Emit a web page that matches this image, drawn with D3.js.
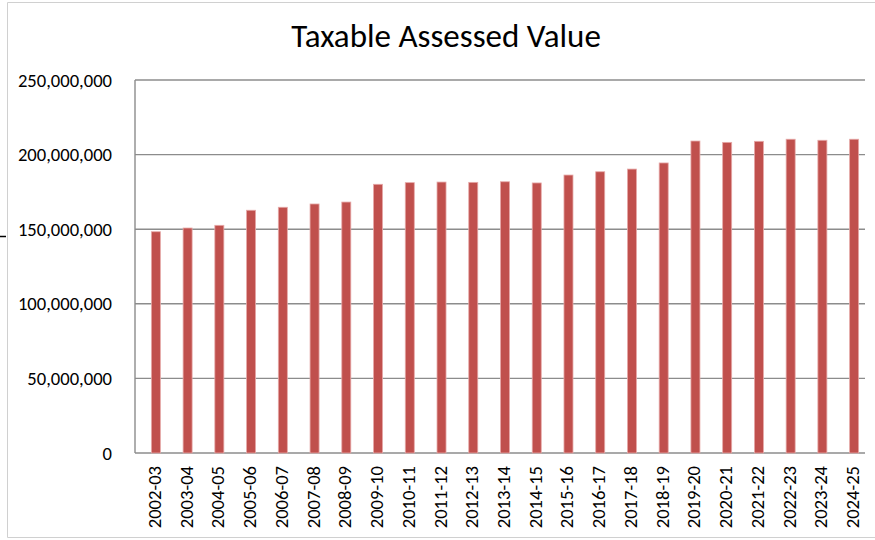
<!DOCTYPE html>
<html>
<head>
<meta charset="utf-8">
<script src="https://cdn.jsdelivr.net/npm/d3@7"></script>
<style>
  body { margin: 0; background: #fff; }
  svg text { font-family: Carlito, Lato, "Liberation Sans", sans-serif; fill: #000; }
</style>
</head>
<body>
<div id="chart"></div>
<script>
// chart data
const years = ["2002-03","2003-04","2004-05","2005-06","2006-07","2007-08","2008-09","2009-10",
  "2010-11","2011-12","2012-13","2013-14","2014-15","2015-16","2016-17","2017-18","2018-19",
  "2019-20","2020-21","2021-22","2022-23","2023-24","2024-25"];
const values = [148300000,150800000,152600000,162700000,164700000,166900000,168200000,180100000,
  181200000,181600000,181400000,181800000,181000000,186300000,188500000,190300000,194400000,
  209100000,208200000,208900000,210300000,209600000,210300000];
const yTicks = [0,50000000,100000000,150000000,200000000,250000000];

// configure chart
const width = 875, height = 540;
const plot = {left: 135, right: 865, top: 80, bottom: 453};

var svg = d3.select('#chart').append('svg')
  .attr('width', width)
  .attr('height', height);

// outer chart border (right side runs off the picture)
svg.append('path')
  .attr('d', 'M875,2.5 H7.5 V537.5 H875')
  .attr('fill', 'none')
  .attr('stroke', '#d0d0d0')
  .attr('stroke-width', 1);
// stray mark on the left edge
svg.append('line')
  .attr('x1', 0).attr('x2', 6).attr('y1', 236.5).attr('y2', 236.5)
  .attr('stroke', '#000').attr('stroke-width', 1.5);

// title
svg.append('text')
  .attr('x', 446).attr('y', 47)
  .attr('text-anchor', 'middle')
  .style('font-size', '33px')
  .text('Taxable Assessed Value');

// scales
var y = d3.scaleLinear().domain([0, 250000000]).range([plot.bottom, plot.top]);
var x = d3.scaleBand().domain(years)
  .range([plot.left + 5, plot.right + 5])
  .paddingInner(0.716).paddingOuter(0.358);

// gridlines
svg.append('g').attr('id', 'grid')
  .selectAll('line').data(yTicks).enter().append('line')
  .attr('x1', plot.left).attr('x2', plot.right)
  .attr('y1', d => y(d)).attr('y2', d => y(d))
  .attr('stroke', '#8c8c8c').attr('stroke-width', 1.4);

// left axis line
svg.append('line')
  .attr('x1', plot.left).attr('x2', plot.left)
  .attr('y1', plot.top).attr('y2', plot.bottom)
  .attr('stroke', '#8c8c8c').attr('stroke-width', 1.4);

// y labels
svg.append('g').attr('id', 'ylabels')
  .selectAll('text').data(yTicks).enter().append('text')
  .attr('x', 112).attr('y', d => y(d))
  .attr('dy', '0.35em')
  .attr('text-anchor', 'end')
  .style('font-size', '18.6px')
  .text(d => d3.format(',')(d));

// bars
svg.append('g').attr('id', 'bars')
  .selectAll('rect').data(values).enter().append('rect')
  .attr('x', (d, i) => x(years[i]))
  .attr('width', x.bandwidth())
  .attr('y', d => y(d))
  .attr('height', d => y(0) - y(d))
  .attr('fill', '#c0504d')
  .attr('stroke', '#e6a9a8')
  .attr('stroke-width', 0.8);

// x labels, rotated
svg.append('g').attr('id', 'xlabels')
  .selectAll('text').data(years).enter().append('text')
  .attr('transform', d => 'translate(' + (x(d) + x.bandwidth() / 2 - 1.5) + ',466) rotate(-90)')
  .attr('dy', '0.35em')
  .attr('text-anchor', 'end')
  .style('font-size', '18.6px')
  .text(d => d);
</script>
</body>
</html>
